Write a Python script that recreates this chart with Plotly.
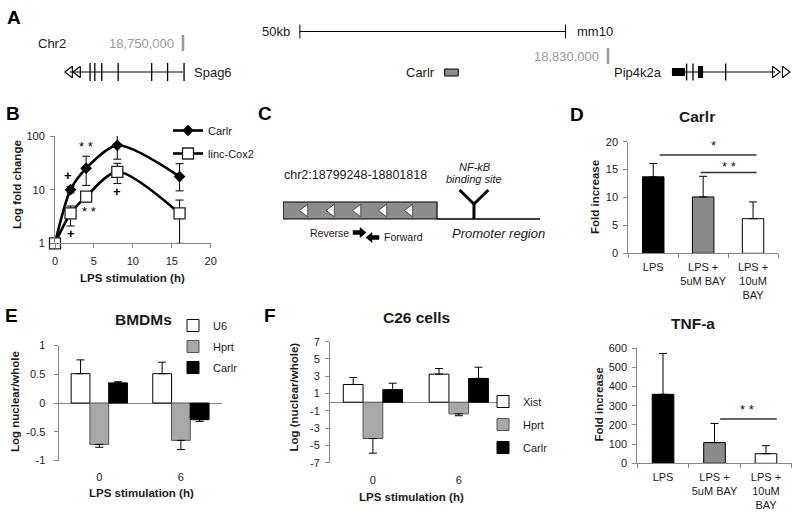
import math
import plotly.graph_objects as go

W, H = 800, 516
FONT = "Liberation Sans, Arial, sans-serif"
AX = "#878787"
TXT = "#1a1a1a"


def px(x):
    return x / W


def py(y):
    return 1 - y / H


# ---------------- Panel A : genome track (mm10 chr2, bp) ----------------
a_coord_marks = [18750000, 18830000]
a_coord_text = ["18,750,000", "18,830,000"]
a_scale_bar = [18772000, 18822000]          # 50 kb
spag6_body = [18728700, 18750000]
spag6_arrows = [18728700, 18730200]
spag6_exons = [18732500, 18733400, 18734700, 18737800, 18744100, 18747100, 18750200]
carlr_locus = [18799248, 18801818]
pip4k2a_body = [18842000, 18861450]
pip4k2a_thin_exons = [18844800, 18846000, 18852150]
pip4k2a_thick_exons = [[18842050, 18844500], [18846950, 18847900]]
pip4k2a_arrows = [18861450, 18863300]

# ---------------- Panel B : time course (log fold change) ----------------
b_hours = [0, 2, 4, 8, 16]
b_carlr = [1, 10, 25, 67, 17.5]
b_carlr_up = [0, 1.5, 17, 45, 13]
b_carlr_dn = [0, 1.3, 13, 30, 8]
b_cox2 = [1, 3.6, 7.4, 21.5, 3.6]
b_cox2_up = [0, 1.35, 1.5, 9.5, 2.8]
b_cox2_dn = [0, 1.5, 1.5, 8.5, 2.6]
b_sig_text = ["+", "* *", "* *", "* *", "+", "+"]
b_sig_x = [1.7, 4, 8, 4.4, 2, 8]
b_sig_y = [18, 65, 143, 4.0, 1.53, 9.1]

# ---------------- Panel C : locus diagram (bp) ----------------
c_locus = [18799248, 18801818]
c_promoter_end = 18803537
c_nfkb_site = 18802435
c_strand_marks = [18799615, 18800058, 18800500, 18800933, 18801367]

# ---------------- Panel D : NF-kB inhibitor ----------------
d_categories = ["LPS", "LPS +<br>5uM BAY", "LPS +<br>10uM<br>BAY"]
d_carlr = [13.7, 10.1, 6.2]
d_carlr_err = [2.4, 3.7, 3.0]
d_tnf = [360, 108, 50]
d_tnf_err = [213, 100, 42]
d_colors = ["#000000", "#8a8a8a", "#ffffff"]

# ---------------- Panels E / F : nuclear / whole ratios ----------------
ef_categories = ["0", "6"]
e_u6 = [0.51, 0.51]
e_u6_err = [0.24, 0.20]
e_hprt = [-0.72, -0.65]
e_hprt_err = [0.05, 0.16]
e_carlr = [0.35, -0.29]
e_carlr_err = [0.02, 0.03]
f_xist = [2.05, 3.25]
f_xist_err = [0.8, 0.65]
f_hprt = [-4.2, -1.35]
f_hprt_err = [1.7, 0.22]
f_carlr = [1.45, 2.75]
f_carlr_err = [0.75, 1.3]

fig = go.Figure()

# ===== Panel A traces (x / y) =====
A = dict(xaxis="x", yaxis="y", showlegend=False, hoverinfo="skip")
fig.add_trace(go.Scatter(x=spag6_body, y=[72, 72], mode="lines",
                         line=dict(color="black", width=1.2), **A))
fig.add_trace(go.Scatter(x=spag6_exons, y=[72] * len(spag6_exons), mode="markers",
                         marker=dict(symbol="line-ns", size=13, color="black",
                                     line=dict(color="black", width=1.3)), **A))
fig.add_trace(go.Scatter(x=spag6_arrows, y=[72, 72], mode="markers",
                         marker=dict(symbol="triangle-left-open", size=10, color="black",
                                     line=dict(color="black", width=1.1)), **A))
fig.add_trace(go.Scatter(x=pip4k2a_body, y=[72, 72], mode="lines",
                         line=dict(color="black", width=1.2), **A))
fig.add_trace(go.Scatter(x=pip4k2a_thin_exons, y=[72] * len(pip4k2a_thin_exons), mode="markers",
                         marker=dict(symbol="line-ns", size=12, color="black",
                                     line=dict(color="black", width=1.3)), **A))
fig.add_trace(go.Scatter(x=pip4k2a_arrows, y=[72, 72], mode="markers",
                         marker=dict(symbol="triangle-right-open", size=10, color="black",
                                     line=dict(color="black", width=1.1)), **A))
fig.add_trace(go.Scatter(x=a_scale_bar, y=[31.5, 31.5], mode="lines+markers",
                         line=dict(color="black", width=1),
                         marker=dict(symbol="line-ns", size=10, color="black",
                                     line=dict(color="black", width=1)), **A))

shapes = []
for (s, e), h in zip(pip4k2a_thick_exons, [4, 6]):
    shapes.append(dict(type="rect", xref="x", yref="y", x0=s, x1=e, y0=72 - h, y1=72 + h,
                       fillcolor="black", line=dict(width=0)))
shapes.append(dict(type="rect", xref="x", yref="y", x0=carlr_locus[0], x1=carlr_locus[1],
                   y0=69, y1=76, fillcolor="#8c8c8c", line=dict(color="black", width=1)))
for xm, (y0, y1) in zip(a_coord_marks, [(35, 51), (48, 64)]):
    shapes.append(dict(type="line", xref="x", yref="y", x0=xm, x1=xm, y0=y0, y1=y1,
                       line=dict(color="#9a9a9a", width=2.5)))

ann = []


def txt(text, x, y, size=11, bold=False, italic=False, color=TXT, xanchor="center",
        yanchor="middle", angle=0, xref="paper", yref="paper", xshift=0):
    t = text
    if bold:
        t = "<b>" + t + "</b>"
    if italic:
        t = "<i>" + t + "</i>"
    if xref == "paper":
        x = px(x)
    if yref == "paper":
        y = py(y)
    ann.append(dict(text=t, x=x, y=y, xref=xref, yref=yref, showarrow=False,
                    xanchor=xanchor, yanchor=yanchor, textangle=angle, xshift=xshift,
                    font=dict(family=FONT, size=size, color=color)))


# Panel A labels
txt("Chr2", 36, 43, size=13, xanchor="left")
for xm, lab, yy in zip(a_coord_marks, a_coord_text, [43, 56.5]):
    txt(lab, xm, yy, size=13, color="#999999", xanchor="right", xref="x", yref="y", xshift=-7)
txt("50kb", a_scale_bar[0], 31.5, size=13, xanchor="right", xref="x", yref="y", xshift=-8)
txt("mm10", a_scale_bar[1], 31.5, size=13, xanchor="left", xref="x", yref="y", xshift=9)
txt("Spag6", spag6_body[1], 72.5, size=13, xanchor="left", xref="x", yref="y", xshift=9)
txt("Carlr", carlr_locus[0], 72.5, size=13, xanchor="right", xref="x", yref="y", xshift=-8)
txt("Pip4k2a", pip4k2a_body[0], 72.5, size=13, xanchor="right", xref="x", yref="y", xshift=-8)

# ===== Panel B =====
fig.add_trace(go.Scatter(
    x=b_hours, y=b_carlr, name="Carlr", xaxis="x2", yaxis="y2", legend="legend", legendgroup="b1",
    mode="lines+markers", line=dict(color="black", width=2.6, shape="spline", smoothing=0.8),
    marker=dict(symbol="diamond", size=9, color="black"), cliponaxis=False,
    error_y=dict(type="data", symmetric=False, array=b_carlr_up, arrayminus=b_carlr_dn,
                 color="black", thickness=1, width=4)))
fig.add_trace(go.Scatter(
    x=b_hours, y=b_cox2, name="linc-Cox2", xaxis="x2", yaxis="y2", legend="legend", legendgroup="b2",
    mode="lines+markers", line=dict(color="black", width=2.6, shape="spline", smoothing=0.8),
    marker=dict(symbol="square", size=11, color="white", line=dict(color="#222", width=1.3)),
    cliponaxis=False,
    error_y=dict(type="data", symmetric=False, array=b_cox2_up, arrayminus=b_cox2_dn,
                 color="black", thickness=1, width=4)))
for t, xv, yv in zip(b_sig_text, b_sig_x, b_sig_y):
    label = "<b>+</b>" if t == "+" else t
    ann.append(dict(text=label, x=xv, y=math.log10(yv), xref="x2", yref="y2", showarrow=False,
                    font=dict(family=FONT, size=13, color="#000000")))

# ===== Panel C =====
C = dict(xaxis="x3", yaxis="y3", showlegend=False, hoverinfo="skip")
shapes.append(dict(type="rect", xref="x3", yref="y3", x0=c_locus[0], x1=c_locus[1], y0=202, y1=219,
                   fillcolor="#8c8c8c", line=dict(color="black", width=1.2), layer="below"))
fig.add_trace(go.Scatter(x=[c_locus[1], c_promoter_end], y=[219, 219], mode="lines",
                         line=dict(color="black", width=1.3), **C))
fig.add_trace(go.Scatter(x=c_strand_marks, y=[210.5] * len(c_strand_marks), mode="markers",
                         marker=dict(symbol="triangle-left", size=11, color="white",
                                     line=dict(color="#333", width=0.8)), **C))
fig.add_trace(go.Scatter(x=[c_nfkb_site, c_nfkb_site], y=[219, 204], mode="lines",
                         line=dict(color="black", width=3), **C))
fig.add_trace(go.Scatter(x=[c_nfkb_site - 240, c_nfkb_site, c_nfkb_site + 240], y=[190, 204, 190],
                         mode="lines", line=dict(color="black", width=3), **C))
txt("chr2:18799248-18801818", 282, 175, size=12.5, xanchor="left")
txt("NF-kB", 474, 167, size=11, italic=True)
txt("binding site", 474, 179.5, size=11, italic=True)
txt("Reverse", 351, 232.5, size=10.5, xanchor="right")
txt("Forward", 382, 237, size=10.5, xanchor="left")
txt("Promoter region", 450, 234, size=13, italic=True, xanchor="left")


def block_arrow(x0, x1, yc, direction):
    hw, sh = 5, 2
    if direction == "right":
        xm = x1 - 6
        pts = [(x0, yc - sh), (xm, yc - sh), (xm, yc - hw), (x1, yc), (xm, yc + hw), (xm, yc + sh), (x0, yc + sh)]
    else:
        xm = x0 + 6
        pts = [(x1, yc - sh), (xm, yc - sh), (xm, yc - hw), (x0, yc), (xm, yc + hw), (xm, yc + sh), (x1, yc + sh)]
    path = "M " + " L ".join(f"{px(a):.5f},{py(b):.5f}" for a, b in pts) + " Z"
    shapes.append(dict(type="path", xref="paper", yref="paper", path=path,
                       fillcolor="black", line=dict(color="black", width=0.5)))


block_arrow(353, 366, 232.5, "right")
block_arrow(366, 379, 237.5, "left")

# ===== Panel D (Carlr) & TNF-a =====
fig.add_trace(go.Bar(x=d_categories, y=d_carlr, xaxis="x4", yaxis="y4", showlegend=False,
                     width=0.43, marker=dict(color=d_colors, line=dict(color="black", width=1)),
                     error_y=dict(type="data", symmetric=False, array=d_carlr_err,
                                  arrayminus=[0] * 3, color="black", thickness=1, width=4)))
fig.add_trace(go.Bar(x=d_categories, y=d_tnf, xaxis="x5", yaxis="y5", showlegend=False,
                     width=0.42, marker=dict(color=d_colors, line=dict(color="black", width=1)),
                     error_y=dict(type="data", symmetric=False, array=d_tnf_err,
                                  arrayminus=[0] * 3, color="black", thickness=1, width=4)))
for xr, yr, x0, x1, yl, tx, ty, label in [
    ("x4", "y4", 0.13, 2.07, 17.6, 1.2, 19.4, "*"),
    ("x4", "y4", 0.95, 2.07, 14.5, 1.52, 15.6, "* *"),
    ("x5", "y5", 1.11, 2.21, 231, 1.63, 280, "* *"),
]:
    shapes.append(dict(type="line", xref=xr, yref=yr, x0=x0, x1=x1, y0=yl, y1=yl,
                       line=dict(color="#333", width=1.5)))
    ann.append(dict(text=label, x=tx, y=ty, xref=xr, yref=yr, showarrow=False,
                    font=dict(family=FONT, size=13, color="#111111")))

# ===== Panel E =====
for name, vals, err, col, lc in [("U6", e_u6, e_u6_err, "white", "black"),
                                 ("Hprt", e_hprt, e_hprt_err, "#a8a8a8", "#555"),
                                 ("Carlr", e_carlr, e_carlr_err, "black", "black")]:
    up = [e if v >= 0 else 0 for v, e in zip(vals, err)]
    dn = [e if v < 0 else 0 for v, e in zip(vals, err)]
    fig.add_trace(go.Bar(x=ef_categories, y=vals, name=name, xaxis="x6", yaxis="y6",
                         legend="legend2", legendgroup="e" + name, offsetgroup="e" + name,
                         marker=dict(color=col, line=dict(color=lc, width=1)),
                         error_y=dict(type="data", symmetric=False, array=up, arrayminus=dn,
                                      color="black", thickness=1, width=4)))

# ===== Panel F =====
for name, vals, err, col, lc in [("Xist", f_xist, f_xist_err, "white", "black"),
                                 ("Hprt", f_hprt, f_hprt_err, "#a8a8a8", "#555"),
                                 ("Carlr", f_carlr, f_carlr_err, "black", "black")]:
    up = [e if v >= 0 else 0 for v, e in zip(vals, err)]
    dn = [e if v < 0 else 0 for v, e in zip(vals, err)]
    fig.add_trace(go.Bar(x=ef_categories, y=vals, name=name, xaxis="x7", yaxis="y7",
                         legend="legend3", legendgroup="f" + name, offsetgroup="f" + name,
                         marker=dict(color=col, line=dict(color=lc, width=1)),
                         error_y=dict(type="data", symmetric=False, array=up, arrayminus=dn,
                                      color="black", thickness=1, width=4)))

# ===== Titles, panel letters, axis titles =====
for L, x, y in [("A", 14.5, 17), ("B", 13, 114), ("C", 265, 114), ("D", 577, 115),
                ("E", 11.5, 315), ("F", 270, 315)]:
    txt(L, x, y, size=19, bold=True, color="black")
txt("Carlr", 697, 117, size=15.5, bold=True)
txt("TNF-a", 692.5, 323, size=15.5, bold=True)
txt("BMDMs", 143, 319.5, size=15.5, bold=True)
txt("C26 cells", 416.5, 317, size=15.5, bold=True)

txt("Log fold change", 17, 185, size=11.5, bold=True, angle=-90)
txt("LPS stimulation (h)", 132.5, 277.5, size=11.5, bold=True)
txt("Fold increase", 595, 197, size=11.5, bold=True, angle=-90)
txt("Fold increase", 598.5, 405, size=11.5, bold=True, angle=-90)
txt("Log nuclear/whole", 15, 402, size=11.5, bold=True, angle=-90)
txt("LPS stimulation (h)", 141, 492.5, size=11.5, bold=True)
txt("Log (nuclear/whole)", 293.5, 397, size=11.5, bold=True, angle=-90)
txt("LPS stimulation (h)", 411.5, 496.5, size=11.5, bold=True)

# ===== Axes =====
tickfont = dict(family=FONT, size=11, color=TXT)
hidden = dict(visible=False, showgrid=False, zeroline=False, automargin=False)
val_axis = dict(showline=True, linecolor=AX, linewidth=1, ticks="outside", tickcolor=AX,
                ticklen=4, tickwidth=1, showgrid=False, zeroline=False, tickfont=tickfont,
                ticklabelstandoff=3, automargin=False)
cat_axis = dict(type="category", showline=True, linecolor=AX, ticks="outside", tickson="boundaries",
                ticklen=4, tickcolor=AX, tickfont=tickfont, ticklabelstandoff=3, showgrid=False,
                tickangle=0, automargin=False)

k = 425 / 80000.0
layout = dict(
    width=W, height=H, margin=dict(l=0, r=0, t=0, b=0, autoexpand=False),
    paper_bgcolor="white", plot_bgcolor="rgba(0,0,0,0)", hovermode=False,
    barmode="group", bargap=0.31, bargroupgap=0,
    font=dict(family=FONT, size=11, color=TXT),
    # A
    xaxis=dict(domain=[0, 1], range=[18750000 - 183 / k, 18750000 + 617 / k], anchor="y", **hidden),
    yaxis=dict(domain=[py(90), 1], range=[90, 0], anchor="x", **hidden),
    # B
    xaxis2=dict(domain=[px(55), px(210.7)], range=[0, 20], anchor="y2", tickvals=[0, 5, 10, 15, 20],
                **val_axis),
    yaxis2=dict(domain=[py(243.3), py(136)], type="log", range=[0, 2], anchor="x2",
                tickvals=[1, 10, 100], ticktext=["1", "10", "100"], **val_axis),
    # C
    xaxis3=dict(domain=[px(283), px(540)], range=[c_locus[0], c_promoter_end], anchor="y3", **hidden),
    yaxis3=dict(domain=[py(245), py(160)], range=[245, 160], anchor="x3", **hidden),
    # D
    xaxis4=dict(domain=[px(628.3), px(778)], anchor="y4", **cat_axis),
    yaxis4=dict(domain=[py(253.3), py(141.7)], range=[0, 20], dtick=5, anchor="x4", **val_axis),
    # TNF
    xaxis5=dict(domain=[px(637.3), px(791.7)], anchor="y5", **cat_axis),
    yaxis5=dict(domain=[py(463.3), py(348.3)], range=[0, 600], dtick=100, anchor="x5", **val_axis),
    # E
    xaxis6=dict(domain=[px(58.5), px(221.7)], type="category", anchor="y6", showline=False,
                ticks="", tickfont=tickfont, ticklabelstandoff=8, showgrid=False, automargin=False),
    yaxis6=dict(domain=[py(460.5), py(345.5)], range=[-1, 1], anchor="x6",
                tickvals=[-1, -0.5, 0, 0.5, 1], ticktext=["-1", "-0.5", "0", "0.5", "1"],
                **{**val_axis, "zeroline": True, "zerolinecolor": AX, "zerolinewidth": 1,
                   "ticklabelstandoff": 6}),
    # F
    xaxis7=dict(domain=[px(330), px(501.7)], type="category", anchor="y7", showline=False,
                ticks="", tickfont=tickfont, ticklabelstandoff=9, showgrid=False, automargin=False),
    yaxis7=dict(domain=[py(462.7), py(341.7)], range=[-7, 7], anchor="x7",
                tickvals=[-7, -5, -3, -1, 1, 3, 5, 7], ticktext=["-7", "-5", "-3", "-1", "1", "3", "5", "7"],
                **{**val_axis, "zeroline": True, "zerolinecolor": AX, "zerolinewidth": 1}),
    legend=dict(x=px(168), y=py(116), xanchor="left", yanchor="top", bgcolor="rgba(0,0,0,0)",
                font=dict(family=FONT, size=11, color=TXT), itemwidth=30, tracegroupgap=4),
    legend2=dict(x=px(173), y=py(311), xanchor="left", yanchor="top", bgcolor="rgba(0,0,0,0)",
                 font=dict(family=FONT, size=11, color=TXT), itemwidth=30, tracegroupgap=2),
    legend3=dict(x=px(483), y=py(387), xanchor="left", yanchor="top", bgcolor="rgba(0,0,0,0)",
                 font=dict(family=FONT, size=11, color=TXT), itemwidth=30, tracegroupgap=4),
    shapes=shapes,
    annotations=ann,
)
fig.update_layout(**layout)
fig.write_html("out.html", config=dict(displayModeBar=False),
               post_script="document.body.style.margin='0';document.body.style.padding='0';")
